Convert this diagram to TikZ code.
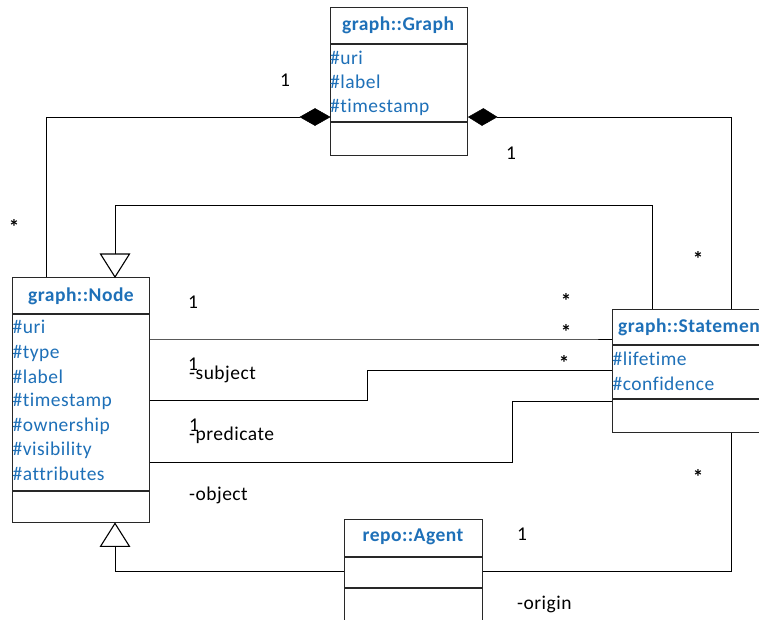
\documentclass[tikz,border=0pt]{standalone}
\usepackage{fontspec}
\setmainfont[LetterSpace=2.5, Ligatures={NoCommon}]{Carlito}
\definecolor{umlblue}{RGB}{30,112,184}
\definecolor{umlline}{RGB}{40,40,40}
\tikzset{
  classbox/.style={draw=umlline, line width=1.4pt, rectangle, inner sep=0pt, anchor=north west},
  ctitle/.style={font=\fontsize{19.5}{21}\selectfont\bfseries, text=umlblue, inner sep=0pt},
  attr/.style={font=\fontsize{19.5}{21}\selectfont, text=umlblue, inner sep=0pt, anchor=west},
  lbl/.style={font=\fontsize{19.5}{21}\selectfont, text=black, inner sep=0pt},
  star/.style={font=\fontsize{21}{21}\selectfont\bfseries, text=black, inner sep=0pt},
  conn/.style={draw=black, line width=0.8pt},
  divider/.style={draw=umlline, line width=1.4pt},
  diam/.style={fill=black, draw=black, line width=0.5pt},
  tri/.style={fill=white, draw=black, line width=1.1pt}
}
\begin{document}
\begin{tikzpicture}[x=1pt,y=-1pt]
\useasboundingbox (0,0) rectangle (759,619);
\fill[white] (0,0) rectangle (759,619);

% ---- connector corner coordinates ----
\coordinate (gl) at (300,117);
\coordinate (gl1) at (46,117);
\coordinate (gr) at (497,117);
\coordinate (gr1) at (731,117);
\coordinate (tn) at (115,254);
\coordinate (tn1) at (115,205);
\coordinate (tn2) at (652,205);
\coordinate (bn) at (115,545);
\coordinate (bn1) at (115,571);
\coordinate (ar) at (731,571);

% ---- boxes ----
\node[classbox, minimum width=137pt, minimum height=148pt] (graph) at (330,7) {};
\draw[divider] (330,44) -- (467,44);
\draw[divider] (330,122) -- (467,122);
\node[ctitle] (graphtitle) at (398,25.5) {graph::Graph};
\node[attr] (g1) at (330,58) {\#uri};
\node[attr] (g2) at (330,82) {\#label};
\node[attr] (g3) at (330,107) {\#timestamp};

\node[classbox, minimum width=137pt, minimum height=245pt] (node) at (12,277) {};
\draw[divider] (12,314) -- (149,314);
\draw[divider] (12,491) -- (149,491);
\node[ctitle] (nodetitle) at (81,296) {graph::Node};
\node[attr] (n1) at (12.5,327) {\#uri};
\node[attr] (n2) at (12.5,353) {\#type};
\node[attr] (n3) at (12.5,377) {\#label};
\node[attr] (n4) at (12.5,401) {\#timestamp};
\node[attr] (n5) at (12.5,426) {\#ownership};
\node[attr] (n6) at (12.5,450) {\#visibility};
\node[attr] (n7) at (12.5,474) {\#attributes};

\node[classbox, minimum width=170pt, minimum height=123pt] (stmt) at (612,309) {};
\draw[divider] (612,345) -- (782,345);
\draw[divider] (612,399) -- (782,399);
\node[ctitle, anchor=west] (stmttitle) at (618,327) {graph::Statement};
\node[attr] (s1) at (612.5,359) {\#lifetime};
\node[attr] (s2) at (612.5,384) {\#confidence};

\node[classbox, minimum width=138pt, minimum height=120pt] (agent) at (344,519) {};
\draw[divider] (344,557) -- (482,557);
\draw[divider] (344,588) -- (482,588);
\node[ctitle] (agenttitle) at (413,537) {repo::Agent};

% ---- connector paths ----
\draw[conn] (gl) -- (gl1) -- (gl1 |- node.north);
\draw[conn] (gr) -- (gr1) -- (gr1 |- stmt.north);
\draw[diam] (graph.west |- gl) -- ++(-15,-8.5) -- (gl) -- ++(15,8.5) -- cycle;
\draw[diam] (graph.east |- gr) -- ++(15,-8.5) -- (gr) -- ++(-15,8.5) -- cycle;

\draw[conn] (tn) -- (tn1) -- (tn2) -- (tn2 |- stmt.north);
\draw[tri] (tn |- node.north) -- ++(-14.5,-23) -- ++(29,0) -- cycle;

\draw[conn] (agent.west |- bn1) -- (bn1) -- (bn);
\draw[conn] (agent.east |- ar) -- (ar) -- (ar |- stmt.south);
\draw[tri] (bn |- node.south) -- ++(-14.5,23) -- ++(29,0) -- cycle;

\coordinate (a1) at (585,339);
\draw[conn] (node.east |- a1) -- (a1) -- (stmt.west |- a1);
\coordinate (b1) at (367,400);
\coordinate (b2) at (367,370);
\draw[conn] (node.east |- b1) -- (b1) -- (b2) -- (stmt.west |- b2);
\coordinate (c1) at (512,462);
\coordinate (c2) at (512,401);
\draw[conn] (node.east |- c1) -- (c1) -- (c2) -- (stmt.west |- c2);

% ---- labels ----
\node[lbl] (l1) at (285,80) {1};
\node[lbl] (l2) at (511,153) {1};
\node[star] (l3) at (14,227) {*};
\node[star] (l4) at (698,259) {*};
\node[lbl] (l5) at (193,302) {1};
\node[star] (l6) at (566,301) {*};
\node[star] (l7) at (566,332) {*};
\node[star] (l8) at (564,363) {*};
\node[lbl] (l9) at (193,364) {1};
\node[lbl, anchor=west] (l10) at (189,374) {-subject};
\node[lbl] (l11) at (194,425) {1};
\node[lbl, anchor=west] (l12) at (189,435) {-predicate};
\node[lbl, anchor=west] (l13) at (189,495) {-object};
\node[star] (l14) at (698,477) {*};
\node[lbl] (l15) at (522,534) {1};
\node[lbl, anchor=west] (l16) at (517,604) {-origin};
\end{tikzpicture}
\end{document}
